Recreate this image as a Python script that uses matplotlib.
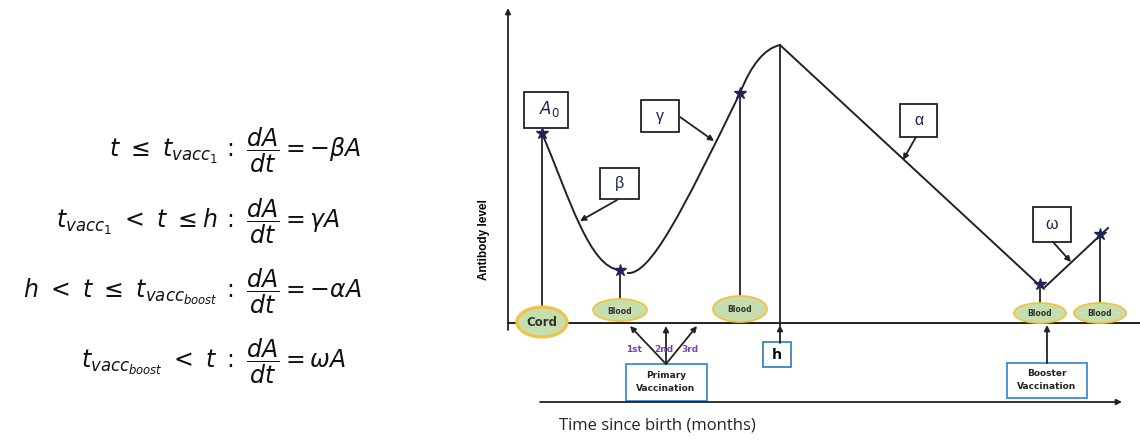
import matplotlib.pyplot as plt
from matplotlib.patches import Ellipse, Rectangle, PathPatch
from matplotlib.path import Path

plt.rcParams['mathtext.fontset'] = 'dejavusans'

# sketch coordinates (x = time, y = level, y grows downwards like the picture)
sample_t = [542, 620, 740, 1040, 1100]
sample_level = [133, 270, 93, 284, 234]
sample_names = ['Cord', 'Blood', 'Blood', 'Blood', 'Blood']

peak_t, peak_level = 780, 45

equations_left = [r'$t\ \leq\ t_{vacc_1}$',
                  r'$t_{vacc_1}\ <\ t\ \leq h$',
                  r'$h\ <\ t\ \leq\ t_{vacc_{boost}}$',
                  r'$t_{vacc_{boost}}\ <\ t$']
equations_right = [r'$:\ \dfrac{dA}{dt} = -\beta A$',
                   r'$:\ \dfrac{dA}{dt} = \gamma A$',
                   r'$:\ \dfrac{dA}{dt} = -\alpha A$',
                   r'$:\ \dfrac{dA}{dt} = \omega A$']

rate_labels = [r'$A_0$', 'β', 'γ', 'α', 'ω']

fig = plt.figure(figsize=(11.4, 4.41), dpi=100)
ax = fig.add_axes([0, 0, 1, 1])
ax.set_xlim(0, 1140)
ax.set_ylim(441, 0)
ax.axis('off')

# equations
eq_y = [157, 228, 298, 368]
for y, l, r in zip(eq_y, equations_left, equations_right):
    ax.text(218, y, l, ha='right', va='baseline', fontsize=17, color='#111')
    ax.text(222, y, r, ha='left', va='baseline', fontsize=17, color='#111')

arrow = dict(arrowstyle='-|>', lw=1.3, color='#222', mutation_scale=8, shrinkA=0, shrinkB=0)

# axes of the sketch
ax.annotate('', xy=(508, 8), xytext=(508, 330), arrowprops=arrow)
ax.plot([508, 1140], [323, 323], color='#222', lw=1.4)
ax.annotate('', xy=(1122, 402), xytext=(540, 402), arrowprops=arrow)
ax.text(559, 426, 'Time since birth (months)', fontsize=12, family='Open Sans', va='center', color='#222')
ax.text(484, 240, 'Antibody level', rotation=90, fontsize=8.5, fontweight='bold',
        family='Liberation Sans', ha='center', va='center')

# antibody curve
t0, t1, t2, t3, t4 = sample_t
l0, l1, l2, l3, l4 = sample_level
decay = Path([(t0, l0), (570, 200), (590, 268), (t1, l1)],
             [Path.MOVETO, Path.CURVE4, Path.CURVE4, Path.CURVE4])
rise = Path([(t1 + 7, l1 + 3), (650, 276), (682, 212), (t2, l2), (757, 50), (peak_t, peak_level)],
            [Path.MOVETO, Path.CURVE4, Path.CURVE4, Path.CURVE4, Path.CURVE3, Path.CURVE3])
for p in (decay, rise):
    ax.add_patch(PathPatch(p, fill=False, lw=1.4, color='#222'))
ax.plot([peak_t, t3 - 3], [peak_level, l3 - 1], color='#222', lw=1.4)
ax.plot([t3 + 5, t4 + 8], [l3 + 3, l4 - 6], color='#222', lw=1.4)

# sample lines, ellipses and stars
ell_y = [322, 310, 309, 313, 313]
ell_w = [50, 54, 54, 52, 52]
ell_h = [30, 22, 26, 20, 20]
for t, lv, name, ey, w, h in zip(sample_t, sample_level, sample_names, ell_y, ell_w, ell_h):
    ax.plot([t, t], [ey - h / 2, lv], color='#222', lw=1.3)
    cord = name == 'Cord'
    ax.add_patch(Ellipse((t, ey), w, h, facecolor='#c6deae', edgecolor='#f3c244',
                         lw=2.2 if cord else 1.3, zorder=3))
    ax.text(t, ey + 1, name, ha='center', va='center', fontsize=8.5 if cord else 5.5,
            fontweight='bold', color='#333', zorder=4)
ax.plot(sample_t, sample_level, ls='none', marker='*', ms=9, color='#1d2657', zorder=5)

# h marker
ax.annotate('', xy=(peak_t, 325), xytext=(peak_t, 343), arrowprops=arrow)
ax.plot([peak_t, peak_t], [325, peak_level], color='#222', lw=1.3)
ax.add_patch(Rectangle((763, 342), 28, 25, fill=False, ec='#3b82c4', lw=1.3))
ax.text(777, 355, 'h', ha='center', va='center', fontsize=11, fontweight='bold', family='Open Sans')

# label boxes for the rates
boxes = [(524, 92, 44, 36), (600, 168, 39, 31), (641, 100, 38, 32), (900, 104, 37, 33), (1033, 207, 38, 35)]
tips = [None, (580, 221), (714, 141), (903, 160), (1071, 262)]
tails = [None, (617, 200), (680, 117), (916, 137), (1053, 242)]
for (x, y, w, h), lab, tip, tail in zip(boxes, rate_labels, tips, tails):
    ax.add_patch(Rectangle((x, y), w, h, facecolor='white', ec='#222', lw=1.3))
    if lab.startswith('$'):
        ax.text(x + w / 2 + 3, y + h / 2 - 1, lab, ha='center', va='center',
                fontsize=12, color='#1a2250')
    else:
        ax.text(x + w / 2, y + h / 2, lab, ha='center', va='center', fontsize=11.5,
                family='Liberation Sans', color='#1a2250')
    if tip:
        ax.annotate('', xy=tip, xytext=tail, arrowprops=arrow)

# primary vaccination
dose_t = [630, 666, 697]
dose_names = ['1st', '2nd', '3rd']
for t, name, lx in zip(dose_t, dose_names, [634, 664, 690]):
    ax.annotate('', xy=(t, 326), xytext=(666, 364), arrowprops=arrow)
    ax.text(lx, 350, name, ha='center', va='center', fontsize=6.5, fontweight='bold', color='#7a3fb0')
ax.add_patch(Rectangle((626, 364), 81, 37, facecolor='white', ec='#3b8ad6', lw=1.3))
ax.text(666, 382, 'Primary\nVaccination', ha='center', va='center', fontsize=6.5,
        fontweight='bold', color='#222', linespacing=1.5)

# booster vaccination
ax.annotate('', xy=(1047, 325), xytext=(1047, 363), arrowprops=arrow)
ax.add_patch(Rectangle((1007, 363), 80, 35, facecolor='white', ec='#3b8ad6', lw=1.3))
ax.text(1047, 380, 'Booster\nVaccination', ha='center', va='center', fontsize=6.5,
        fontweight='bold', color='#222', linespacing=1.6)

plt.savefig('out.png')
